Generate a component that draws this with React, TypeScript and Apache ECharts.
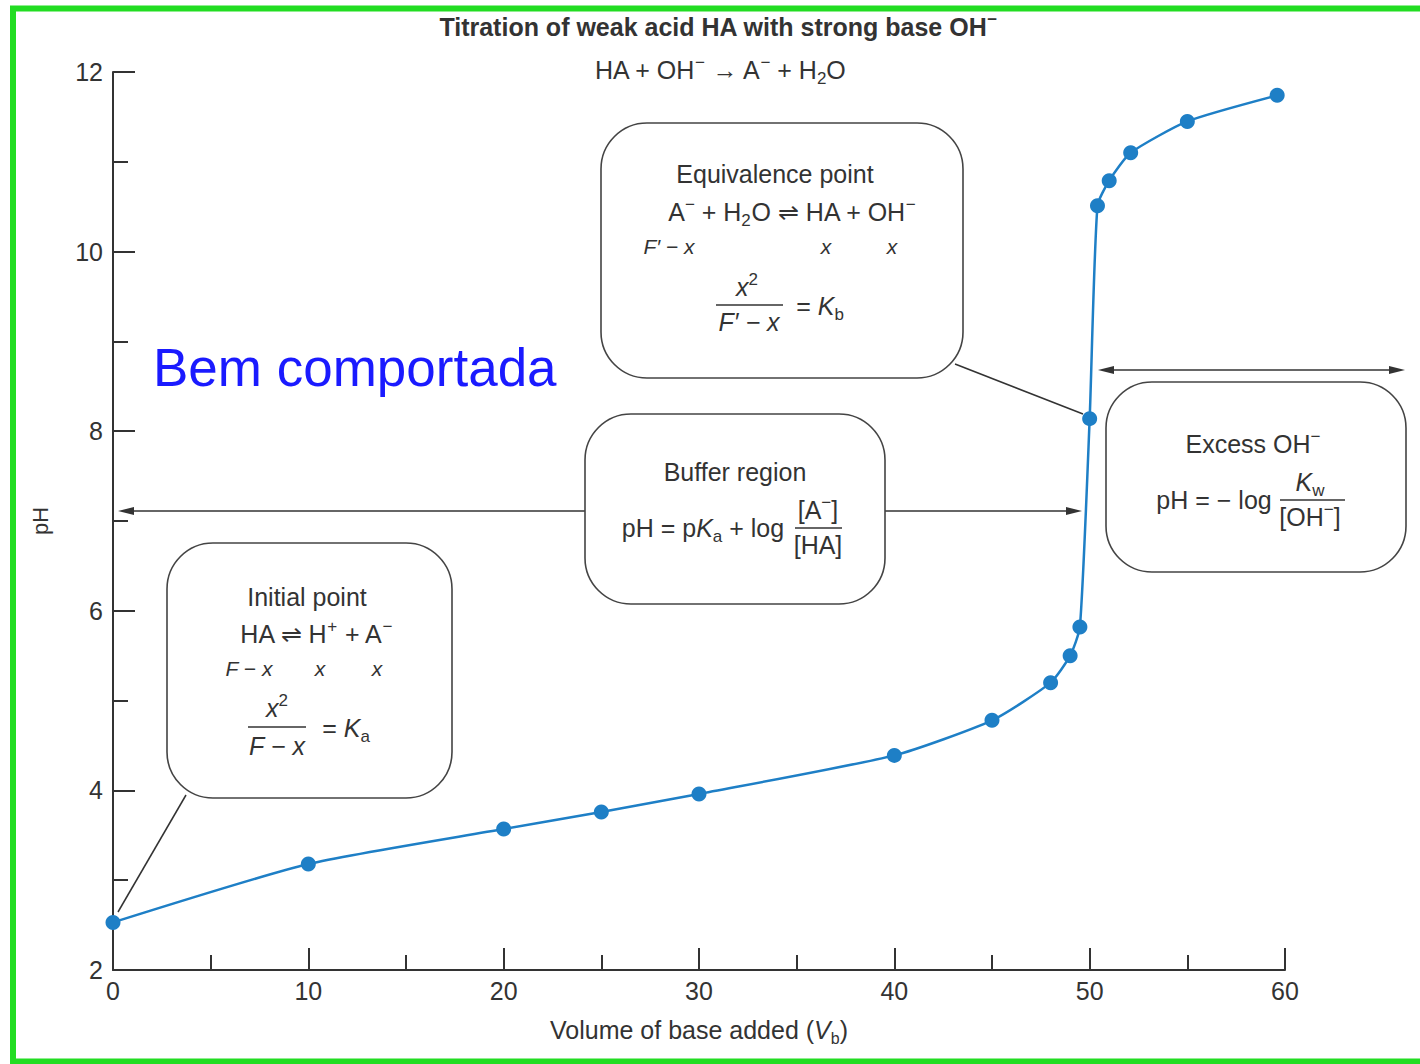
import React, { useEffect, useRef } from "react";
import * as echarts from "echarts";

// ---- data ----
const volumes = [0, 10, 20, 25, 30, 40, 45, 48, 49, 49.5, 50, 50.4, 51, 52.1, 55, 59.6];
const phValues = [2.53, 3.18, 3.57, 3.76, 3.96, 4.39, 4.78, 5.2, 5.5, 5.82, 8.14, 10.51, 10.79, 11.1, 11.45, 11.74];
const xTicks = [0, 10, 20, 30, 40, 50, 60];
const yTicks = [2, 4, 6, 8, 10, 12];

const FONT = '"Liberation Sans", Arial, Helvetica, sans-serif';
const INK = "#333";
const BLUE = "#1e7fc6";

function makeRich(size: number) {
  const small = Math.round(size * 0.66);
  const lh = Math.round(size * 1.3);
  const base = { fontSize: size, fontFamily: FONT, fill: INK, lineHeight: lh, height: size };
  return {
    n: { ...base },
    i: { ...base, fontStyle: "italic" },
    b: { ...base, fontWeight: "bold" },
    sup: { fontSize: small, fontFamily: FONT, fill: INK, lineHeight: small, height: small, verticalAlign: "top" },
    sub: { fontSize: small, fontFamily: FONT, fill: INK, lineHeight: small, height: small, verticalAlign: "bottom" },
    bsup: { fontSize: small, fontFamily: FONT, fontWeight: "bold", fill: INK, lineHeight: small, height: small, verticalAlign: "top" },
  };
}

function t(x: number, y: number, text: string, size = 25, align = "center") {
  return {
    type: "text",
    x,
    y,
    z: 20,
    style: {
      text,
      rich: makeRich(size),
      fontSize: size,
      fontFamily: FONT,
      fill: INK,
      lineHeight: Math.round(size * 1.3),
      align,
      verticalAlign: "middle",
    },
  };
}

function ln(x1: number, y1: number, x2: number, y2: number, w = 1.5, z = 15) {
  return {
    type: "line",
    z,
    shape: { x1, y1, x2, y2 },
    style: { stroke: INK, lineWidth: w },
  };
}

function box(x: number, y: number, w: number, h: number) {
  return {
    type: "rect",
    z: 12,
    shape: { x, y, width: w, height: h, r: 46 },
    style: { fill: "#fff", stroke: "#444", lineWidth: 1.6 },
  };
}

function arrowHead(tipX: number, y: number, dir: number) {
  return {
    type: "polygon",
    z: 11,
    shape: { points: [[tipX, y], [tipX + dir * 16, y - 4], [tipX + dir * 16, y + 4]] },
    style: { fill: INK },
  };
}

export default function App() {
  const ref = useRef<HTMLDivElement>(null);
  useEffect(() => {
    document.body.style.margin = "0";
    const chart = echarts.init(ref.current!, null, { renderer: "svg" });
    const data = volumes.map((v, k) => [v, phValues[k]]);
    const graphics: any[] = [
      // green frame
      {
        type: "rect",
        z: 1,
        shape: { x: 13, y: 8.5, width: 1440, height: 1053 },
        style: { fill: "none", stroke: "#22dd22", lineWidth: 6 },
      },
      // title
      t(718, 27, "{b|Titration of weak acid HA with strong base OH}{bsup|−}", 25),
      t(720, 70, "{n|HA + OH}{sup|−}{n| → A}{sup|−}{n| + H}{sub|2}{n|O}", 25),
      // Bem comportada
      {
        type: "text",
        x: 153,
        y: 367,
        z: 20,
        style: { text: "Bem comportada", fontSize: 53, fontFamily: FONT, fill: "#1a1aff", align: "left", verticalAlign: "middle" },
      },
      // connector lines
      ln(186, 795, 118, 912, 1.5, 11),
      ln(955, 364, 1083, 414, 1.5, 11),
      // buffer arrow
      ln(125, 511, 1075, 511, 1.5, 11),
      arrowHead(118, 511, 1),
      arrowHead(1082, 511, -1),
      // excess arrow
      ln(1105, 370, 1398, 370, 1.5, 11),
      arrowHead(1098, 370, 1),
      arrowHead(1405, 370, -1),
      // boxes
      box(601, 123, 362, 255),
      box(585, 414, 300, 190),
      box(167, 543, 285, 255),
      box(1106, 382, 300, 190),
      // equivalence point
      t(775, 174, "{n|Equivalence point}", 25),
      t(792, 212, "{n|A}{sup|−}{n| + H}{sub|2}{n|O ⇌ HA + OH}{sup|−}", 25),
      t(669, 246, "{i|F′ − x}", 21),
      t(826, 246, "{i|x}", 21),
      t(892, 246, "{i|x}", 21),
      t(747, 287, "{i|x}{sup|2}", 25),
      ln(716, 305, 783, 305, 1.6, 20),
      t(749, 322, "{i|F′ − x}", 25),
      t(820, 306, "{n|= }{i|K}{sub|b}", 25),
      // buffer region
      t(735, 472, "{n|Buffer region}", 25),
      t(703, 528, "{n|pH = p}{i|K}{sub|a}{n| + log}", 25),
      t(818, 510, "{n|[A}{sup|−}{n|]}", 25),
      ln(795, 528, 842, 528, 1.6, 20),
      t(818, 545, "{n|[HA]}", 25),
      // excess OH
      t(1253, 444, "{n|Excess OH}{sup|−}", 25),
      t(1214, 500, "{n|pH = − log}", 25),
      t(1310, 482, "{i|K}{sub|w}", 25),
      ln(1280, 500, 1345, 500, 1.6, 20),
      t(1310, 517, "{n|[OH}{sup|−}{n|]}", 25),
      // initial point
      t(307, 597, "{n|Initial point}", 25),
      t(316, 634, "{n|HA ⇌ H}{sup|+}{n| + A}{sup|−}", 25),
      t(249, 668, "{i|F − x}", 21),
      t(320, 668, "{i|x}", 21),
      t(377, 668, "{i|x}", 21),
      t(277, 708, "{i|x}{sup|2}", 25),
      ln(248, 727, 306, 727, 1.6, 20),
      t(277, 746, "{i|F − x}", 25),
      t(346, 728, "{n|= }{i|K}{sub|a}", 25),
    ];

    chart.setOption({
      animation: false,
      backgroundColor: "#fff",
      grid: { left: 113, right: 135, top: 72, bottom: 94, containLabel: false },
      xAxis: {
        type: "value",
        min: xTicks[0],
        max: xTicks[xTicks.length - 1],
        interval: 10,
        name: "Volume of base added ({i|V}{sub|b})",
        nameLocation: "middle",
        nameGap: 44,
        nameTextStyle: {
          fontSize: 25,
          fontFamily: FONT,
          color: INK,
          rich: {
            i: { fontSize: 25, fontFamily: FONT, fontStyle: "italic", color: INK, lineHeight: 32, height: 25 },
            sub: { fontSize: 16, fontFamily: FONT, color: INK, lineHeight: 16, height: 16, verticalAlign: "bottom" },
          },
          lineHeight: 32,
        },
        axisLine: { show: true, onZero: false, lineStyle: { color: INK, width: 2 } },
        axisTick: { show: true, inside: true, length: 22, lineStyle: { color: INK, width: 2 } },
        minorTick: { show: true, splitNumber: 2, length: 15, lineStyle: { color: INK, width: 2 } },
        splitLine: { show: false },
        axisLabel: { fontSize: 25, fontFamily: FONT, color: INK, margin: 8 },
      },
      yAxis: {
        type: "value",
        min: yTicks[0],
        max: yTicks[yTicks.length - 1],
        interval: 2,
        name: "pH",
        nameLocation: "middle",
        nameGap: 62,
        nameTextStyle: { fontSize: 22, fontFamily: FONT, color: INK },
        axisLine: { show: true, onZero: false, lineStyle: { color: INK, width: 2 } },
        axisTick: { show: true, inside: true, length: 22, lineStyle: { color: INK, width: 2 } },
        minorTick: { show: true, splitNumber: 2, length: 15, lineStyle: { color: INK, width: 2 } },
        splitLine: { show: false },
        axisLabel: { fontSize: 25, fontFamily: FONT, color: INK, margin: 10 },
      },
      series: [
        {
          type: "line",
          data,
          smooth: 0.2,
          symbol: "circle",
          symbolSize: 15,
          z: 30,
          lineStyle: { color: BLUE, width: 2.5 },
          itemStyle: { color: BLUE },
        },
      ],
      graphic: graphics,
    });
    return () => chart.dispose();
  }, []);
  return <div ref={ref} style={{ width: 1420, height: 1064 }} />;
}
